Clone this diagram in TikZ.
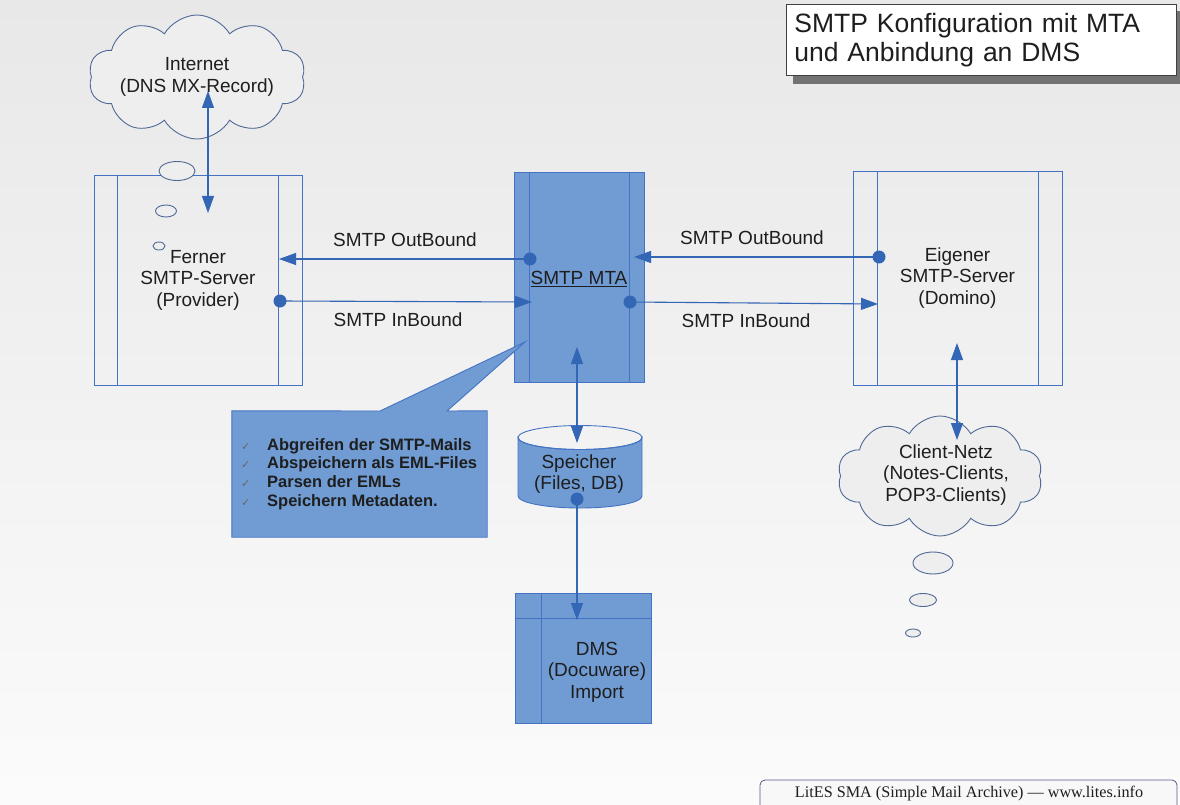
\documentclass[tikz,border=0pt]{standalone}
\usepackage{fontspec}
\setmainfont{Liberation Sans}
\newfontfamily\footfont{Liberation Serif}
\newfontfamily\symfont{DejaVu Sans}
\usetikzlibrary{shapes.symbols,arrows.meta,calc}
\definecolor{bfill}{RGB}{112,156,211}
\definecolor{bline}{RGB}{68,114,196}
\definecolor{aline}{RGB}{52,102,182}
\definecolor{cline}{RGB}{80,105,150}
\definecolor{txt}{RGB}{30,30,30}
\definecolor{bg}{RGB}{238,238,238}
\tikzset{
  tip/.tip={Triangle[length=17pt,width=12pt]},
  srvbox/.style={draw=bline, line width=0.9pt, inner sep=0pt, align=center, text=txt},
  bluebox/.style={srvbox, fill=bfill},
  conn/.style={draw=aline, line width=1.1pt},
  lbl/.style={text=txt, inner sep=0pt},
  cloudshape/.style={cloud, cloud puffs=10, cloud puff arc=120, draw=cline, line width=0.9pt,
     fill=bg, align=center, text=txt, inner sep=0pt, cloud ignores aspect},
  bubble/.style={draw=cline, line width=0.9pt, fill=bg},
}
\newcommand{\pdot}[1]{\fill[aline] (#1) circle (6.5pt);}
\newcommand{\chkmark}{\makebox[26pt][l]{\symfont\fontsize{11}{11}\selectfont\color{black!60}✓}}
\begin{document}
\begin{tikzpicture}[x=1pt,y=-1pt, font=\fontsize{19}{21.5}\selectfont]
\useasboundingbox (0,0) rectangle (1180,805);
\shade[top color=black!9, bottom color=black!1.5] (0,0) rectangle (1180,805);

% title
\fill[black!55] (793,11) rectangle (1180,84);
\node[draw=black!75, line width=0.9pt, fill=white, minimum width=390pt, minimum height=71pt,
      inner sep=0pt, anchor=north west, text width=384pt, align=left, text=txt,
      font=\fontsize{26.5}{28.5}\selectfont] (title) at (786,4)
      {\hspace*{5pt}SMTP Konfiguration mit MTA\\\hspace*{5pt}und Anbindung an DMS};

% clouds
\node[cloudshape, minimum width=214pt, minimum height=124pt] (internet) at (197,77)
   {Internet\\(DNS MX-Record)};
\node[cloudshape, minimum width=205pt, minimum height=120pt] (client) at (940,476) {};
\node[lbl, align=center] (clientlbl) at (946,475)
   {Client-Netz\\(Notes-Clients,\\POP3-Clients)};

% server boxes
\node[srvbox, minimum width=208pt, minimum height=210pt] (ferner) at (198,280)
   {Ferner\\SMTP-Server\\(Provider)};
\draw[bline, line width=0.9pt] ([xshift=24pt]ferner.north west) -- ([xshift=24pt]ferner.south west)
   ([xshift=-24pt]ferner.north east) -- ([xshift=-24pt]ferner.south east);
\node[srvbox, minimum width=209pt, minimum height=214pt] (eigener) at (957.5,278)
   {Eigener\\SMTP-Server\\(Domino)};
\draw[bline, line width=0.9pt] ([xshift=25pt]eigener.north west) -- ([xshift=25pt]eigener.south west)
   ([xshift=-24pt]eigener.north east) -- ([xshift=-24pt]eigener.south east);

% MTA
\node[bluebox, minimum width=130pt, minimum height=210pt] (mta) at (579,277.5) {};
\draw[bline, line width=0.9pt] ([xshift=16pt]mta.north west) -- ([xshift=16pt]mta.south west)
   ([xshift=-15pt]mta.north east) -- ([xshift=-15pt]mta.south east);
\node[lbl] (mtalbl) at (579,279) {\underline{SMTP MTA}};

% thought bubbles
\draw[bubble] (177,171) ellipse [x radius=18, y radius=9.5];
\draw[bubble] (166,211) ellipse [x radius=10.5, y radius=6];
\draw[bubble] (159,246) ellipse [x radius=6, y radius=4];
\draw[bubble] (933,563) ellipse [x radius=20, y radius=11];
\draw[bubble] (923,600) ellipse [x radius=13.5, y radius=6.5];
\draw[bubble] (913,633) ellipse [x radius=7.5, y radius=4];

% Speicher cylinder
\node[inner sep=0pt, minimum width=124pt, minimum height=84pt] (speicher) at (580,473) {};
\filldraw[fill=bfill, draw=bline, line width=0.9pt]
   (518,437.5) -- (518,496) arc[start angle=180, end angle=0, x radius=62, y radius=12]
   -- (642,437.5) arc[start angle=0, end angle=180, x radius=62, y radius=12] -- cycle;
\draw[bline, line width=0.9pt] (580,437.5) ellipse [x radius=62, y radius=12];
\node[lbl, align=center] (speicherlbl) at (579,474) {Speicher\\(Files, DB)};

% DMS
\node[bluebox, minimum width=136pt, minimum height=130pt] (dms) at (583,658) {};
\draw[bline, line width=0.9pt] ([xshift=27pt]dms.north west) -- ([xshift=27pt]dms.south west)
   ([yshift=-26pt]dms.north west) -- ([yshift=-26pt]dms.north east);
\node[lbl, align=center] (dmslbl) at (597,672) {DMS\\(Docuware)\\Import};

% callout
\node[inner sep=0pt, minimum width=255pt, minimum height=126pt] (callout) at (359.5,474) {};
\filldraw[fill=bfill, draw=bline, line width=0.9pt]
   (callout.north west) -- (380,411) -- (525,342) -- (447,411) -- (callout.north east)
   -- (callout.south east) -- (callout.south west) -- cycle;
\node[anchor=west, inner sep=0pt, align=left, text=txt,
      font=\bfseries\fontsize{16.5}{18.8}\selectfont] (items) at (241,474)
   {\chkmark Abgreifen der SMTP-Mails\\
    \chkmark Abspeichern als EML-Files\\
    \chkmark Parsen der EMLs\\
    \chkmark Speichern Metadaten.};

% connector coordinates
\coordinate (iA) at (208,91);
\coordinate (iB) at (208,213);
\coordinate (mOutL) at (530,259);
\coordinate (fOut) at (279,259);
\coordinate (fIn) at (280,301);
\coordinate (mInL) at (532,302);
\coordinate (eOut) at (879,257);
\coordinate (mOutR) at (634,257);
\coordinate (mInR) at (630,302);
\coordinate (eIn) at (878,304);
\coordinate (mDown) at (577,347);
\coordinate (sTop) at (577,443);
\coordinate (sBot) at (577,499);
\coordinate (dTop) at (577,620);
\coordinate (eDown) at (957,343);
\coordinate (cTop) at (957,440);

% connectors
\draw[conn, {tip}-{tip}] (iA) -- (iB);
\draw[conn, -{tip}] (mOutL) -- (fOut); \pdot{mOutL}
\draw[conn, -{tip}] (fIn) -- (mInL); \pdot{fIn}
\draw[conn, -{tip}] (eOut) -- (mOutR); \pdot{eOut}
\draw[conn, -{tip}] (mInR) -- (eIn); \pdot{mInR}
\draw[conn, {tip}-{tip}] (sTop) -- (mDown);
\draw[conn, -{tip}] (sBot) -- (dTop); \pdot{sBot}
\draw[conn, {tip}-{tip}] (eDown) -- (cTop);

% labels
\node[lbl] (lo1) at (405,240) {SMTP OutBound};
\node[lbl] (li1) at (398,320) {SMTP InBound};
\node[lbl] (lo2) at (752,238) {SMTP OutBound};
\node[lbl] (li2) at (746,321) {SMTP InBound};

% footer
\draw[draw=black!40!blue!30!gray, line width=0.8pt, fill=white!60!bg, rounded corners=5pt]
   (760,812) -- (760,780) -- (1177,780) -- (1177,812);
\node[lbl, font=\footfont\fontsize{16.2}{18}\selectfont] (footer) at (969,794)
   {LitES SMA (Simple Mail Archive) — www.lites.info};
\end{tikzpicture}
\end{document}
